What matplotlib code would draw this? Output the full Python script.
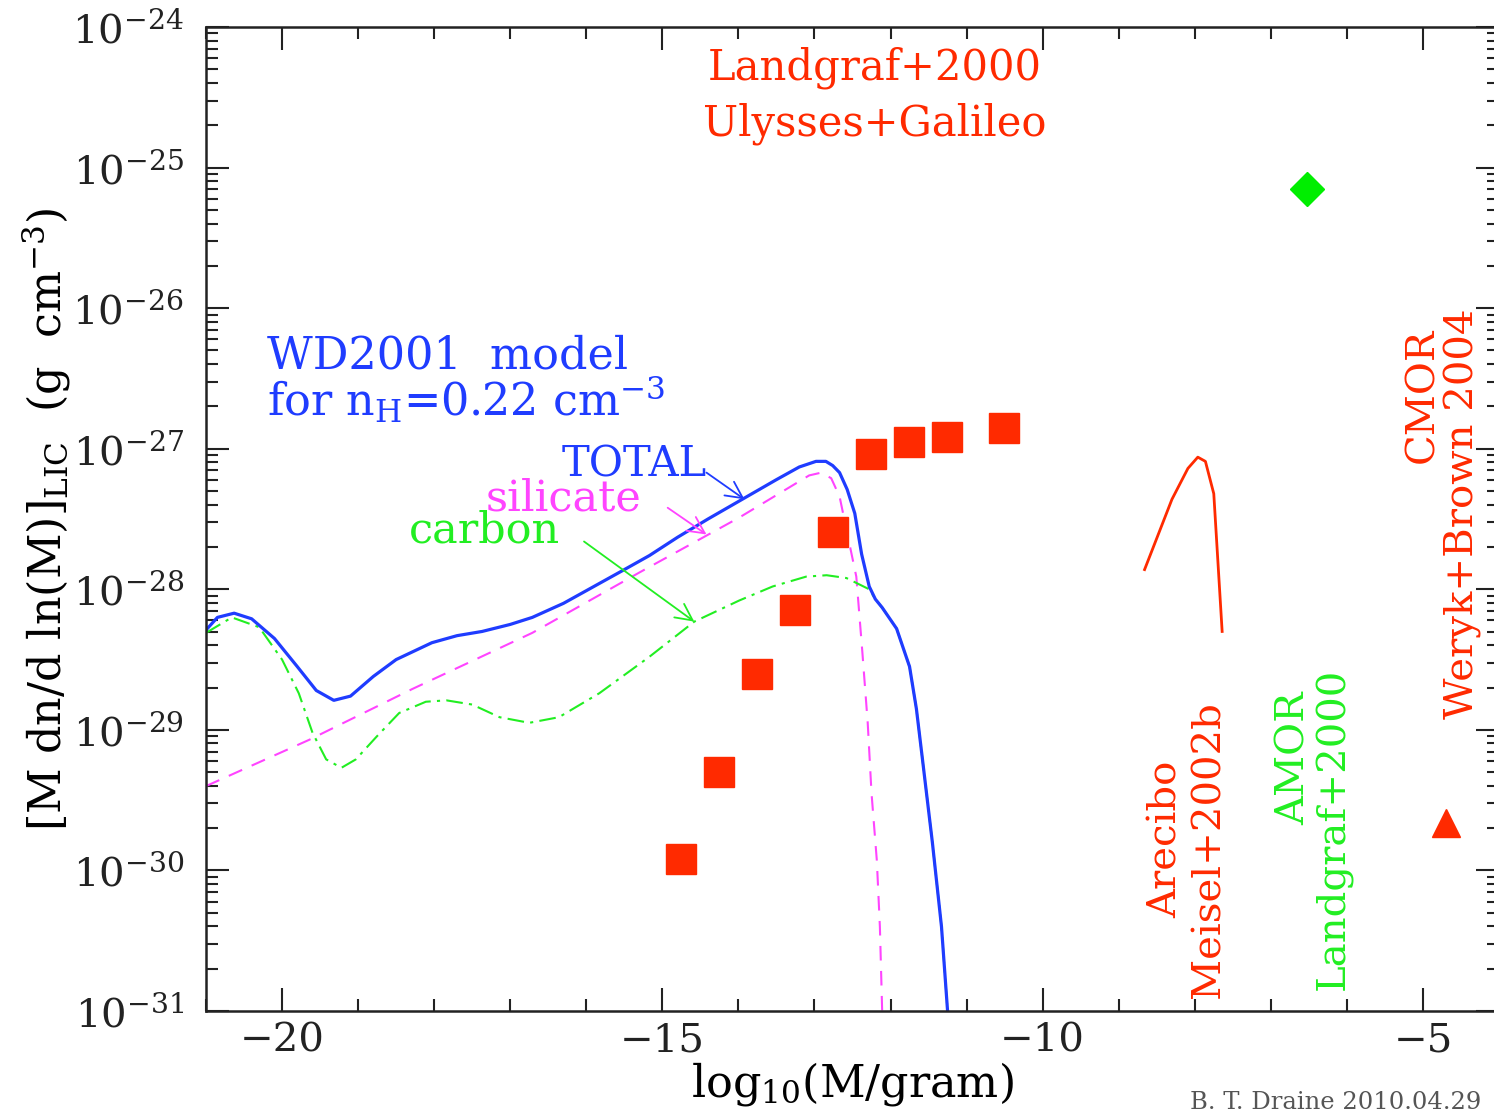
import numpy as np
import matplotlib
matplotlib.use("Agg")
import matplotlib.pyplot as plt
from matplotlib.ticker import MultipleLocator, LogLocator, NullFormatter

plt.rcParams['font.family'] = ['DejaVu Serif']
plt.rcParams['mathtext.fontset'] = 'dejavuserif'

# ---------------- data (log10 M [g], log10 density) ----------------
total_x = [-21.0, -20.85, -20.63, -20.4, -20.1, -19.8, -19.55, -19.32, -19.1, -18.8,
           -18.5, -18.03, -17.7, -17.37, -17.0, -16.71, -16.3, -15.9, -15.5, -15.17,
           -14.8, -14.4, -13.95, -13.5, -13.2, -12.98, -12.85, -12.76, -12.67, -12.57,
           -12.47, -12.38, -12.28, -12.20, -12.11, -11.92, -11.75, -11.66, -11.58, -11.45,
           -11.33, -11.25, -11.2]
total_y = [-28.29, -28.20, -28.17, -28.21, -28.35, -28.55, -28.72, -28.79, -28.76, -28.62,
           -28.50, -28.38, -28.33, -28.30, -28.25, -28.20, -28.10, -27.98, -27.86, -27.76,
           -27.63, -27.50, -27.36, -27.22, -27.13, -27.09, -27.09, -27.12, -27.17, -27.29,
           -27.46, -27.75, -27.98, -28.07, -28.13, -28.28, -28.55, -28.85, -29.21, -29.80,
           -30.40, -31.00, -31.30]

sil_x = [-21.0, -19.64, -18.29, -16.71, -15.30, -13.99, -13.07, -12.91, -12.78, -12.67,
         -12.57, -12.45, -12.37, -12.30, -12.25, -12.18, -12.14, -12.11, -12.09]
sil_y = [-29.40, -29.07, -28.71, -28.31, -27.88, -27.49, -27.19, -27.17, -27.21, -27.34,
         -27.60, -27.91, -28.45, -28.95, -29.45, -29.93, -30.40, -31.00, -31.30]

carb_x = [-21.0, -20.66, -20.30, -20.0, -19.78, -19.6, -19.42, -19.22, -19.03, -18.76,
          -18.46, -18.11, -17.84, -17.50, -17.14, -16.75, -16.36, -15.83, -15.17, -14.58,
          -13.99, -13.55, -13.11, -12.84, -12.58, -12.28, -12.20, -12.11, -11.92, -11.75,
          -11.66, -11.58, -11.45, -11.33, -11.25, -11.2]
carb_y = [-28.31, -28.20, -28.27, -28.50, -28.74, -29.02, -29.21, -29.27, -29.21, -29.05,
          -28.88, -28.80, -28.79, -28.82, -28.91, -28.95, -28.91, -28.74, -28.48, -28.23,
          -28.08, -27.98, -27.91, -27.90, -27.92, -28.00, -28.07, -28.13, -28.28, -28.55,
          -28.85, -29.21, -29.80, -30.40, -31.00, -31.30]

ulysses_x = [-14.76, -14.26, -13.76, -13.26, -12.76, -12.26, -11.76, -11.26, -10.51]
ulysses_y = [-29.92, -29.30, -28.60, -28.15, -27.59, -27.04, -26.95, -26.92, -26.85]

arecibo_x = [-8.66, -8.30, -8.09, -7.96, -7.86, -7.75, -7.64]
arecibo_y = [-27.86, -27.36, -27.14, -27.06, -27.09, -27.32, -28.30]

amor_x, amor_y = [-6.53], [-25.15]
cmor_x, cmor_y = [-4.70], [-29.66]

# ---------------- figure ----------------
W, H = 1494, 1111
fig = plt.figure(figsize=(W / 100, H / 100), dpi=100)
x0, x1 = 206, 1499
y0, y1 = 27, 1011
ax = fig.add_axes([x0 / W, 1 - y1 / H, (x1 - x0) / W, (y1 - y0) / H])

BLUE = '#1f3cff'
MAG = '#ff44ff'
GREEN = '#22ee22'
RED = '#ff2a00'

p = lambda v: 10.0 ** np.asarray(v)

ax.plot(sil_x, p(sil_y), color=MAG, lw=1.5, dashes=(7, 5))
ax.plot(carb_x, p(carb_y), color=GREEN, lw=1.5, dashes=(8, 3, 1.5, 3))
ax.plot(total_x, p(total_y), color=BLUE, lw=2.3, solid_capstyle='round',
        solid_joinstyle='round')
ax.plot(ulysses_x, p(ulysses_y), ls='none', marker='s', ms=22, color=RED, mec=RED)
ax.plot(arecibo_x, p(arecibo_y), color=RED, lw=2.0)
ax.plot(amor_x, p(amor_y), ls='none', marker='D', ms=17, color='#00ee00')
ax.plot(cmor_x, p(cmor_y), ls='none', marker='^', ms=20, color=RED)

ax.set_yscale('log')
ax.set_xlim(-21, -4)
ax.set_ylim(1e-31, 1e-24)

ax.xaxis.set_major_locator(MultipleLocator(5))
ax.xaxis.set_minor_locator(MultipleLocator(1))
ax.yaxis.set_major_locator(LogLocator(base=10, numticks=20))
ax.yaxis.set_minor_locator(LogLocator(base=10, subs=np.arange(2, 10), numticks=20))
ax.yaxis.set_minor_formatter(NullFormatter())

ax.tick_params(which='both', direction='in', top=True, right=True, colors='#222222')
ax.tick_params(which='major', length=16.5, width=1.5, labelsize=29)
ax.tick_params(which='minor', length=8.5, width=1.5)
ax.tick_params(axis='y', which='major', pad=16)
ax.tick_params(axis='x', which='major', pad=8)
for s in ax.spines.values():
    s.set_linewidth(1.8)
    s.set_color('#222222')

ax.set_xlabel(r'log$_{10}$(M/gram)', fontsize=32)
ax.xaxis.set_label_coords(0.5, -0.05)
ax.set_ylabel(r'[M dn/d ln(M)]$_{\rm LIC}$  (g  cm$^{-3}$)', fontsize=32)
ax.yaxis.set_label_coords(-0.103, 0.5)

# ---------------- annotations ----------------
ax.text(-12.21, p(-24.377), 'Landgraf+2000', color=RED, fontsize=30, ha='center', va='baseline')
ax.text(-12.21, p(-24.775), 'Ulysses+Galileo', color=RED, fontsize=30, ha='center', va='baseline')
ax.text(-20.2, p(-26.43), 'WD2001  model', color=BLUE, fontsize=32, ha='left', va='baseline')
ax.text(-20.2, p(-26.77), r'for n$_{\rm H}$=0.22 cm$^{-3}$', color=BLUE, fontsize=32,
        ha='left', va='baseline')
ax.text(-16.32, p(-27.20), 'TOTAL', color=BLUE, fontsize=30, ha='left', va='baseline')
ax.text(-17.32, p(-27.44), 'silicate', color=MAG, fontsize=31, ha='left', va='baseline')
ax.text(-18.33, p(-27.67), 'carbon', color=GREEN, fontsize=31, ha='left', va='baseline')

arr = dict(arrowstyle='->', lw=1.3, mutation_scale=30, shrinkA=0, shrinkB=0)
ax.annotate('', xy=(-13.92, p(-27.36)), xytext=(-14.42, p(-27.17)),
            arrowprops=dict(arr, color=BLUE))
ax.annotate('', xy=(-14.42, p(-27.61)), xytext=(-14.93, p(-27.42)),
            arrowprops=dict(arr, color=MAG))
ax.annotate('', xy=(-14.58, p(-28.23)), xytext=(-16.03, p(-27.66)),
            arrowprops=dict(arr, color=GREEN))

rot = dict(rotation=90, rotation_mode='anchor', ha='left', va='baseline', fontsize=29)
ax.text(-8.24, p(-30.34), 'Arecibo', color=RED, **rot)
ax.text(-7.67, p(-30.91), 'Meisel+2002b', color=RED, **rot)
ax.text(-6.55, p(-29.68), 'AMOR', color=GREEN, **rot)
ax.text(-6.03, p(-30.85), 'Landgraf+2000', color=GREEN, **rot)
ax.text(-4.87, p(-27.10), 'CMOR', color=RED, **rot)
ax.text(-4.34, p(-28.92), 'Weryk+Brown 2004', color=RED, **rot)

fig.text(1190 / W, 1 - 1109 / H, 'B. T. Draine 2010.04.29', fontsize=17.5, color='#555555',
         ha='left', va='baseline')

fig.savefig('out.png', dpi=100)
